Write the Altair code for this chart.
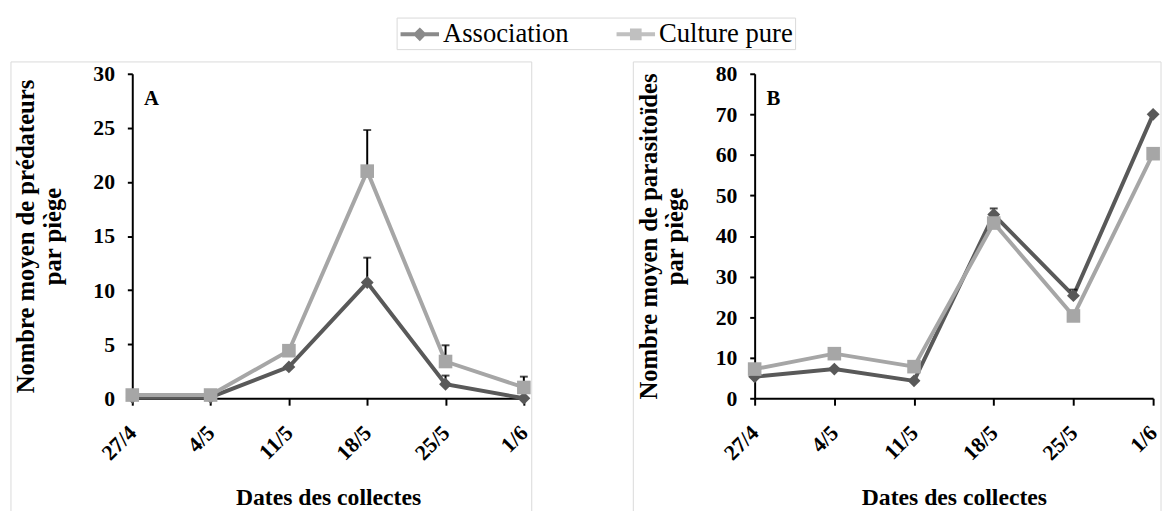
import altair as alt
import pandas as pd

dates = ["27/4", "4/5", "11/5", "18/5", "25/5", "1/6"]
series = ["Association", "Culture pure"]

a_assoc = [0.1, 0.1, 2.9, 10.7, 1.3, 0.0]
a_assoc_se = [0, 0, 0, 2.3, 0.8, 0]
a_pure = [0.3, 0.3, 4.4, 21.0, 3.4, 1.0]
a_pure_se = [0, 0, 0, 3.8, 1.5, 1.0]

b_assoc = [5.3, 7.2, 4.3, 45.3, 25.3, 70.0]
b_assoc_se = [0, 0, 0, 1.5, 1.5, 0]
b_pure = [7.2, 11.0, 7.8, 43.2, 20.3, 60.3]
b_pure_se = [0, 0, 1.2, 0, 0, 0]

DARK = "#595959"
LIGHT = "#a6a6a6"
FONT = "Liberation Serif"

def make_df(assoc, assoc_se, pure, pure_se):
    rows = []
    for d, v, s in zip(dates, assoc, assoc_se):
        rows.append({"date": d, "serie": series[0], "v": v, "top": v + s, "se": s})
    for d, v, s in zip(dates, pure, pure_se):
        rows.append({"date": d, "serie": series[1], "v": v, "top": v + s, "se": s})
    return pd.DataFrame(rows)


def panel(df, ymax, ystep, ytitle, letter, width, height, with_legend):
    x = alt.X("date:N", sort=dates,
              scale=alt.Scale(type="point", domain=dates, padding=0),
              axis=alt.Axis(title="Dates des collectes", labelAngle=-45,
                            labelAlign="right", labelBaseline="middle",
                            labelPadding=24, tickSize=7, titlePadding=22,
                            titleFontSize=24))
    y = alt.Y("v:Q", scale=alt.Scale(domain=[0, ymax], nice=False, zero=True),
              axis=alt.Axis(title=ytitle, values=list(range(0, ymax + 1, ystep)),
                            tickSize=5, labelPadding=13, titlePadding=28,
                            titleFontSize=25, titleLineHeight=27))
    base = alt.Chart(df)
    layers = []
    border = alt.Chart(pd.DataFrame([{"k": 1}])).mark_rect(
        fill=None, stroke="#d9d9d9", strokeWidth=1).encode(
        x=alt.value(-123), x2=alt.value(width + 8),
        y=alt.value(-12), y2=alt.value(height + 140))
    layers.append(border)
    for s, col, shp in [(series[0], DARK, "diamond"), (series[1], LIGHT, "square")]:
        sub = base.transform_filter(alt.datum.serie == s)
        layers.append(sub.mark_line(color=col, strokeWidth=4).encode(x=x, y=y))
        err = sub.transform_filter(alt.datum.se > 0)
        layers.append(err.mark_rule(color="black", strokeWidth=2).encode(
            x=x, y="v:Q", y2="top:Q"))
        layers.append(err.mark_tick(color="black", thickness=2, size=8,
                                    orient="horizontal").encode(x=x, y="top:Q"))
        layers.append(sub.mark_point(filled=True, opacity=1, color=col, shape=shp,
                                     size=170 if shp == "diamond" else 190,
                                     strokeWidth=0).encode(x=x, y=y))
    lab = alt.Chart(pd.DataFrame([{"t": letter}])).mark_text(
        font=FONT, fontWeight="bold", fontSize=21, align="left", baseline="alphabetic"
    ).encode(x=alt.value(12), y=alt.value(32), text="t:N")
    layers.append(lab)
    if with_legend:
        cscale = alt.Scale(domain=series, range=[DARK, LIGHT])
        leg = alt.Chart(df).transform_filter("false").mark_point(filled=True).encode(
            x=x, y=y,
            color=alt.Color("serie:N", scale=cscale,
                            legend=alt.Legend(title=None, orient="none", legendX=268,
                                              legendY=-57, direction="horizontal",
                                              symbolSize=676, symbolStrokeWidth=4,
                                              labelFont=FONT, labelFontSize=27,
                                              labelFontWeight="normal", labelColor="black",
                                              labelOffset=15, columnPadding=40,
                                              strokeColor="#d9d9d9", padding=2,
                                              symbolOpacity=1)),
            stroke=alt.Stroke("serie:N", scale=cscale, legend=alt.Legend(title=None)),
            shape=alt.Shape("serie:N", scale=alt.Scale(
                domain=series,
                range=["M-1,0L2,0M0.5,-0.32L0.82,0L0.5,0.32L0.18,0Z",
                       "M-1,0L2,0M0.2,-0.3L0.8,-0.3L0.8,0.3L0.2,0.3Z"]),
                legend=alt.Legend(title=None)),
        )
        layers.append(leg)
    return alt.layer(*layers).properties(width=width, height=height)


dfa = make_df(a_assoc, a_assoc_se, a_pure, a_pure_se)
dfb = make_df(b_assoc, b_assoc_se, b_pure, b_pure_se)

pa = panel(dfa, 30, 5, ["Nombre moyen de prédateurs", "par piège"], "A", 397, 329, True)
pb = panel(dfb, 80, 10, ["Nombre moyen de parasitoïdes", "par piège"], "B", 404, 329, False)

chart = alt.hconcat(pa, pb, spacing=101).resolve_scale(
    x="independent", y="independent").properties(
    padding={"left": 2, "top": 5, "right": 0, "bottom": 0}
).configure_view(stroke=None).configure_axis(
    domainColor="black", domainWidth=2, tickColor="black", tickWidth=2,
    labelFont=FONT, labelFontSize=22, labelFontWeight="bold", labelColor="black",
    titleFont=FONT, titleFontWeight="bold", titleColor="black",
    grid=False
)

chart.save("out.html", embed_options={"renderer": "svg", "actions": False})
